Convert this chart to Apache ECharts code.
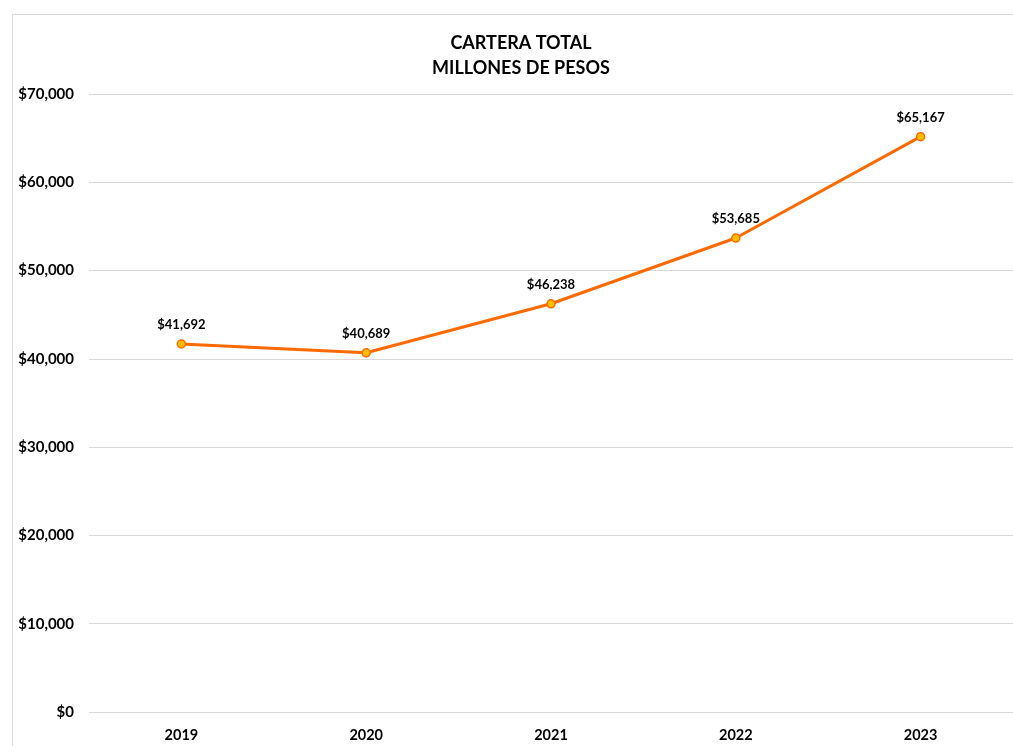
<!DOCTYPE html>
<html>
<head>
<meta charset="utf-8">
<script src="https://cdn.jsdelivr.net/npm/echarts@6/dist/echarts.min.js"></script>
<style>
html,body{margin:0;padding:0;background:#fff;}
#c{width:1013px;height:746px;}
</style>
</head>
<body>
<div id="c"></div>
<script>
const categories = ['2019', '2020', '2021', '2022', '2023'];
const values = [41692, 40689, 46238, 53685, 65167];
const titleLines = ['CARTERA TOTAL', 'MILLONES DE PESOS'];

const fmt = v => '$' + v.toLocaleString('en-US');
const FONT = 'Lato, "Open Sans", sans-serif';

const chart = echarts.init(document.getElementById('c'));
chart.setOption({
  animation: false,
  backgroundColor: '#fff',
  graphic: [{
    type: 'rect', left: 10, top: 12, silent: true,
    shape: { width: 1100, height: 800 },
    style: { fill: 'none', stroke: '#d9d9d9', lineWidth: 1 }
  }],
  title: {
    text: titleLines.join('\n'),
    left: 516, top: 26, textAlign: 'center',
    textStyle: { fontFamily: FONT, fontWeight: 'bold', fontSize: 18, color: '#000', lineHeight: 25 }
  },
  grid: { left: 89, top: 94, width: 925, height: 618, containLabel: false },
  xAxis: {
    type: 'category', data: categories, boundaryGap: true,
    axisLine: { show: false }, axisTick: { show: false },
    axisLabel: { fontFamily: FONT, fontWeight: 'bold', fontSize: 14.5, color: '#000', margin: 16 }
  },
  yAxis: {
    type: 'value', min: 0, max: 70000, interval: 10000,
    axisLine: { show: false }, axisTick: { show: false },
    splitLine: { lineStyle: { color: '#d9d9d9', width: 1 } },
    axisLabel: { fontFamily: FONT, fontWeight: 'bold', fontSize: 15, color: '#000', margin: 15, formatter: fmt }
  },
  series: [{
    type: 'line', data: values,
    symbol: 'circle', symbolSize: 8,
    lineStyle: { color: '#FF6A00', width: 3 },
    itemStyle: { color: '#FFC000', borderColor: '#FF6A00', borderWidth: 1.5 },
    label: {
      show: true, position: 'top', distance: 8,
      fontFamily: FONT, fontWeight: 'bold', fontSize: 13, color: '#000',
      formatter: p => fmt(p.value)
    }
  }]
});
</script>
</body>
</html>
